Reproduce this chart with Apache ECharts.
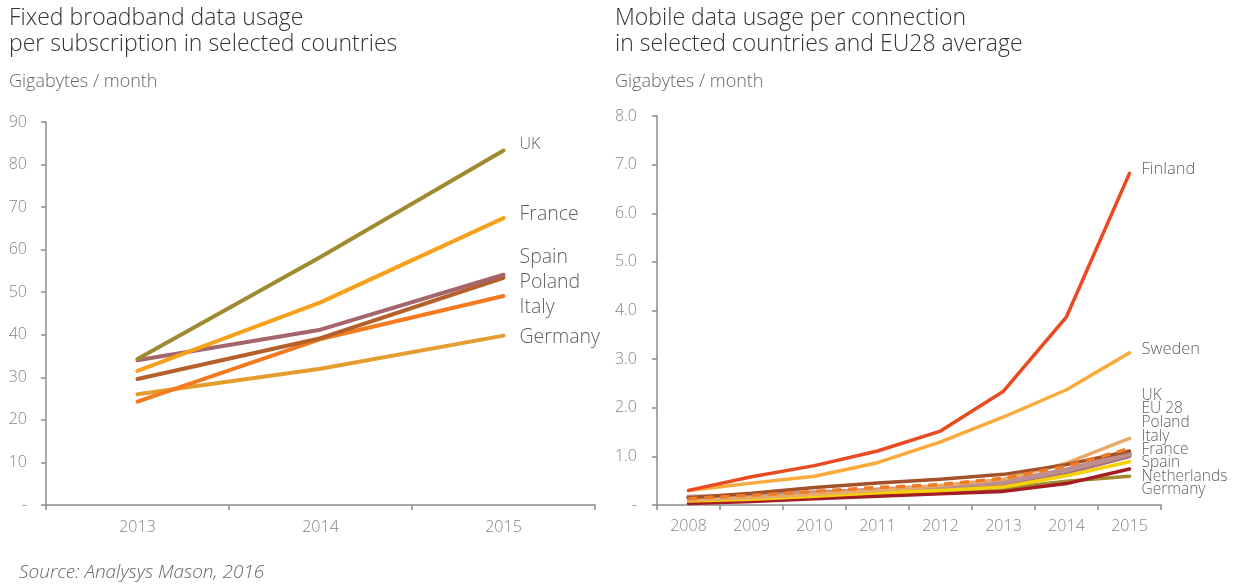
<!DOCTYPE html>
<html>
<head>
<meta charset="utf-8">
<script src="https://cdn.jsdelivr.net/npm/echarts@6/dist/echarts.min.js"></script>
<style>
  html, body { margin: 0; padding: 0; background: #fff; }
  #chart { width: 1248px; height: 587px; }
</style>
</head>
<body>
<div id="chart"></div>
<script>
// Fixed broadband usage per subscription (GB / month)
const fixedYears = ['2013', '2014', '2015'];
const fixedUK      = [34.3, 58.3, 83.3];
const fixedFrance  = [31.5, 47.6, 67.4];
const fixedSpain   = [34.0, 41.2, 54.1];
const fixedPoland  = [29.6, 39.2, 53.4];
const fixedItaly   = [24.3, 39.0, 49.1];
const fixedGermany = [26.0, 32.0, 39.8];
const fixedTicks   = [0, 10, 20, 30, 40, 50, 60, 70, 80, 90];

// Mobile data usage per connection (GB / month)
const mobileYears = ['2008', '2009', '2010', '2011', '2012', '2013', '2014', '2015'];
const mobFinland     = [0.30, 0.58, 0.81, 1.11, 1.52, 2.34, 3.87, 6.82];
const mobSweden      = [0.30, 0.45, 0.59, 0.87, 1.30, 1.81, 2.37, 3.13];
const mobUK          = [0.15, 0.24, 0.36, 0.45, 0.53, 0.63, 0.83, 1.11];
const mobEU28        = [0.13, 0.20, 0.28, 0.36, 0.42, 0.55, 0.80, 1.16];
const mobPoland      = [0.16, 0.19, 0.25, 0.31, 0.38, 0.47, 0.72, 1.05];
const mobItaly       = [0.10, 0.15, 0.22, 0.30, 0.40, 0.53, 0.86, 1.37];
const mobFrance      = [0.08, 0.12, 0.18, 0.25, 0.30, 0.37, 0.60, 0.89];
const mobSpain       = [0.14, 0.17, 0.22, 0.28, 0.34, 0.42, 0.66, 1.00];
const mobNetherlands = [0.03, 0.07, 0.13, 0.18, 0.23, 0.28, 0.44, 0.74];
const mobGermany     = [0.08, 0.12, 0.17, 0.22, 0.27, 0.34, 0.49, 0.59];

const FONT = '"Open Sans", Roboto, sans-serif';
const AXIS_GREY = '#8c8c8c';
const TICK_TEXT = '#858585';
const LABEL_TEXT = '#5f5f5f';

const chart = echarts.init(document.getElementById('chart'), null, { renderer: 'canvas' });

function line(name, data, color, axisIdx, width, labelSize, labelDy, labelGap, extra) {
  return Object.assign({
    name: name,
    type: 'line',
    xAxisIndex: axisIdx,
    yAxisIndex: axisIdx,
    data: data,
    symbol: 'none',
    smooth: false,
    silent: true,
    lineStyle: { color: color, width: width, cap: 'round', join: 'round' },
    itemStyle: { color: color },
    endLabel: {
      show: true,
      formatter: '{a}',
      color: LABEL_TEXT,
      fontFamily: FONT,
      fontWeight: 300,
      fontSize: labelSize,
      distance: labelGap,
      offset: [0, labelDy]
    },
    labelLayout: { hideOverlap: false },
    animation: false
  }, extra || {});
}

const yLabelFmtFixed = v => (v === 0 ? '-' : String(v));
const yLabelFmtMobile = v => (v === 0 ? '-' : v.toFixed(1));

function heading(text, left, top, size, extra) {
  return {
    text: text, left: left, top: top, padding: 0,
    textStyle: Object.assign({ fontFamily: FONT, fontSize: size, fontWeight: 300, color: '#333333' }, extra || {})
  };
}

const tickLabel = { color: TICK_TEXT, fontFamily: FONT, fontWeight: 300, fontSize: 16 };
const axisLine = { show: true, lineStyle: { color: AXIS_GREY, width: 1.5 } };
const axisTick = { show: true, length: 5, lineStyle: { color: AXIS_GREY, width: 1.5 } };

const option = {
  backgroundColor: '#ffffff',
  animation: false,
  title: [
    heading('Fixed broadband data usage\nper subscription in selected countries', 9, 5, 23, { lineHeight: 26 }),
    heading('Gigabytes / month', 9, 72, 18, { color: '#666666', lineHeight: 20 }),
    heading('Mobile data usage per connection\nin selected countries and EU28 average', 615, 5, 23, { lineHeight: 26 }),
    heading('Gigabytes / month', 615, 72, 18, { color: '#666666', lineHeight: 20 }),
    heading('Source: Analysys Mason, 2016', 19, 563, 19, { color: '#666666', fontStyle: 'italic', lineHeight: 20 })
  ],
  grid: [
    { left: 46, top: 122, width: 549, height: 383, containLabel: false },
    { left: 657, top: 116, width: 504, height: 389, containLabel: false }
  ],
  xAxis: [
    {
      type: 'category', gridIndex: 0, data: fixedYears, boundaryGap: true,
      axisLine: axisLine, axisTick: axisTick,
      axisLabel: Object.assign({ margin: 14 }, tickLabel)
    },
    {
      type: 'category', gridIndex: 1, data: mobileYears, boundaryGap: true,
      axisLine: axisLine, axisTick: axisTick,
      axisLabel: Object.assign({ margin: 13 }, tickLabel)
    }
  ],
  yAxis: [
    {
      type: 'value', gridIndex: 0, min: fixedTicks[0], max: fixedTicks[fixedTicks.length - 1], interval: 10,
      splitLine: { show: false },
      axisLine: axisLine, axisTick: axisTick,
      axisLabel: Object.assign({ margin: 19, formatter: yLabelFmtFixed }, tickLabel)
    },
    {
      type: 'value', gridIndex: 1, min: 0, max: 8, interval: 1,
      splitLine: { show: false },
      axisLine: axisLine, axisTick: axisTick,
      axisLabel: Object.assign({ margin: 20, formatter: yLabelFmtMobile }, tickLabel)
    }
  ],
  series: [
    // fixed broadband
    line('Germany', fixedGermany, '#e49d2e', 0, 4, 19.5, 2, 16),
    line('Italy',   fixedItaly,   '#f47a20', 0, 4, 19.5, 11, 16),
    line('Poland',  fixedPoland,  '#b5602a', 0, 4, 19.5, 5, 16),
    line('Spain',   fixedSpain,   '#a4666a', 0, 4, 19.5, -17, 16),
    line('France',  fixedFrance,  '#f9a01b', 0, 4, 19.5, -4, 16),
    line('UK',      fixedUK,      '#a08a30', 0, 4, 16, -6, 16),

    // mobile
    line('Germany',     mobGermany,     '#a08a30', 1, 3.5, 15.5, 13, 12),
    line('Netherlands', mobNetherlands, '#a51d22', 1, 3.5, 15.5, 8, 12),
    line('Spain',       mobSpain,       '#a6707a', 1, 4, 15.5, 6, 12),
    line('Poland',      mobPoland,      '#bd8e90', 1, 5, 15.5, -31, 12),
    line('France',      mobFrance,      '#f7d108', 1, 3.5, 15.5, -12, 12),
    line('Italy',       mobItaly,       '#e8aa68', 1, 3.5, 15.5, -2, 12),
    line('UK',          mobUK,          '#a3512b', 1, 3.5, 15.5, -55, 12),
    line('EU 28',       mobEU28,        '#f07b25', 1, 3.5, 15.5, -40, 12,
         { lineStyle: { color: '#f07b25', width: 3.5, type: [9, 7], cap: 'butt' } }),
    line('Sweden',      mobSweden,      '#fbaa3a', 1, 3.5, 16.5, -4, 12),
    line('Finland',     mobFinland,     '#ea4a1f', 1, 3.5, 16.5, -4, 12)
  ]
};

chart.setOption(option);
</script>
</body>
</html>
